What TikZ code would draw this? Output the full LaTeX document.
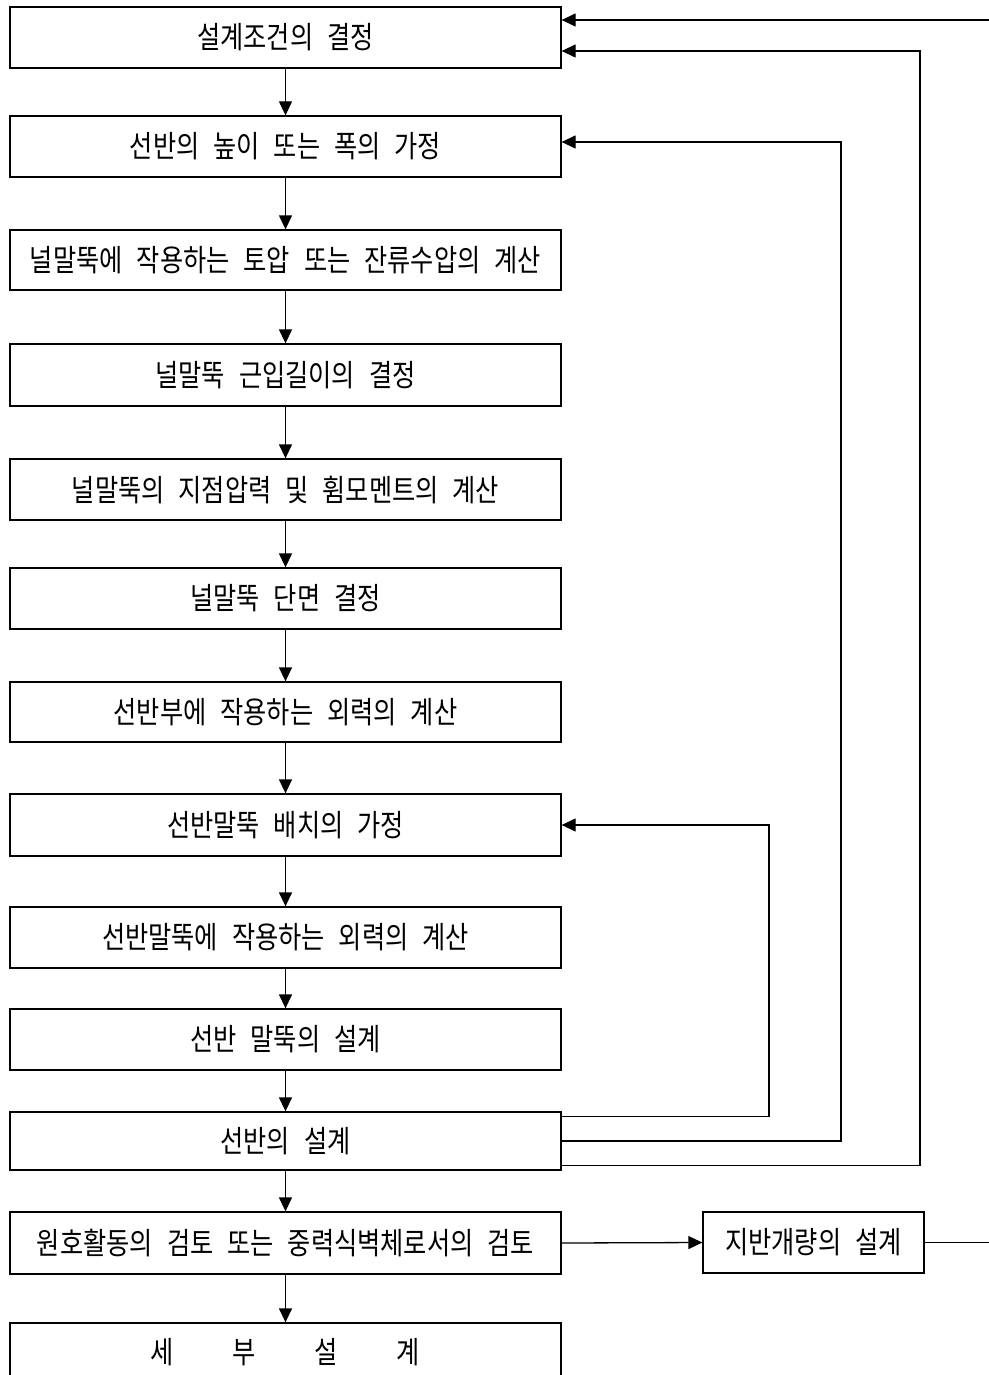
\documentclass[tikz,border=0pt]{standalone}
\usepackage{fontspec}
\newfontfamily\kr[FakeStretch=0.83]{Noto Sans CJK KR}
\usetikzlibrary{arrows.meta}
\tikzset{
  stepbox/.style={draw, line width=1.3pt, minimum width=551pt, inner sep=0pt,
    font={\kr\fontsize{30.4pt}{32pt}\selectfont\spaceskip=14pt\relax}},
  arr/.style={-{Triangle[length=14pt,width=13pt]}, line width=1.3pt},
  ln/.style={line width=1.3pt}
}
\begin{document}
\begin{tikzpicture}[x=1pt,y=-1pt]
\useasboundingbox (0,0) rectangle (988,1375);
\node[stepbox, minimum height=61pt] (b1) at (285.5,37.5) {설계조건의 결정};
\node[stepbox, minimum height=61pt] (b2) at (285.5,146.5) {선반의 높이 또는 폭의 가정};
\node[stepbox, minimum height=60pt] (b3) at (285.5,260) {널말뚝에 작용하는 토압 또는 잔류수압의 계산};
\node[stepbox, minimum height=62pt] (b4) at (285.5,375) {널말뚝 근입길이의 결정};
\node[stepbox, minimum height=61pt] (b5) at (285.5,489.5) {널말뚝의 지점압력 및 휨모멘트의 계산};
\node[stepbox, minimum height=61pt] (b6) at (285.5,598.5) {널말뚝 단면 결정};
\node[stepbox, minimum height=60pt] (b7) at (285.5,712) {선반부에 작용하는 외력의 계산};
\node[stepbox, minimum height=62pt] (b8) at (285.5,825) {선반말뚝 배치의 가정};
\node[stepbox, minimum height=61pt] (b9) at (285.5,937.5) {선반말뚝에 작용하는 외력의 계산};
\node[stepbox, minimum height=61pt] (b10) at (285.5,1039.5) {선반 말뚝의 설계};
\node[stepbox, minimum height=58pt] (b11) at (285.5,1141) {선반의 설계};
\node[stepbox, minimum height=62pt] (b12) at (285.5,1243) {원호활동의 검토 또는 중력식벽체로서의 검토};
\node[stepbox, minimum height=58pt] (b13) at (285.5,1352) {세\hspace{58.8pt}부\hspace{58.8pt}설\hspace{58.8pt}계};
\node[stepbox, minimum width=221pt, minimum height=61pt] (side) at (813.5,1242.5) {지반개량의 설계};

\foreach \a/\b in {b1/b2,b2/b3,b3/b4,b4/b5,b5/b6,b6/b7,b7/b8,b8/b9,b9/b10,b10/b11,b11/b12,b12/b13}
  \draw[arr] (\a.south) -- (\b.north);

\draw[arr] (b12.east) -- (side.west);

\coordinate (c1) at (769,825);
\coordinate (c2) at (841,142);
\coordinate (c3) at (920,51);
\coordinate (c4a) at (995,1242.5);
\coordinate (c4b) at (995,20);

\draw[arr] ([yshift=-5pt]b11.north east) -| (c1) -- (b8.east);
\draw[arr] (b11.east) -| (c2) -- ([yshift=4.5pt]b2.east);
\draw[arr] ([yshift=5pt]b11.south east) -| (c3) -- ([yshift=-13.5pt]b1.east);
\draw[arr] (side.east) -- (c4a) -- (c4b) -- ([yshift=17.5pt]b1.east);
\end{tikzpicture}
\end{document}
